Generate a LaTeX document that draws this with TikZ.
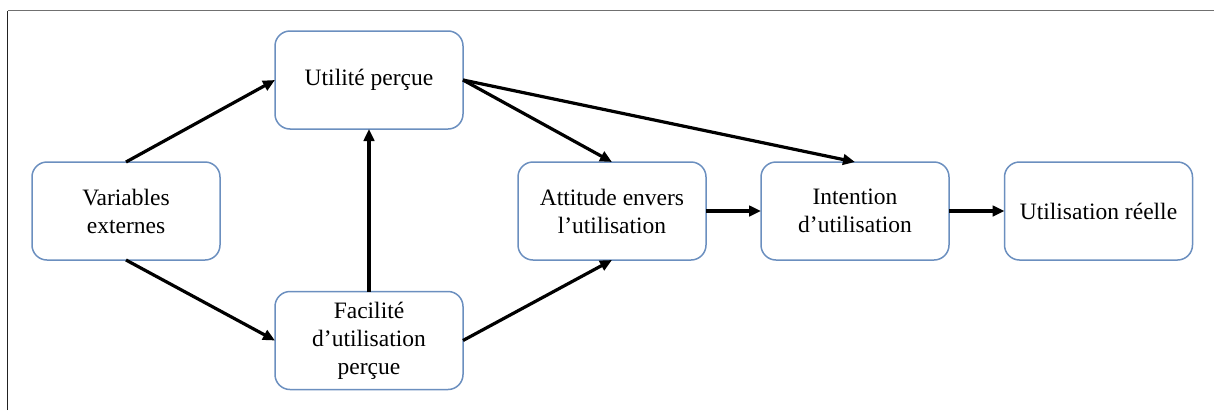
\documentclass[tikz,border=0pt]{standalone}
\usepackage{fontspec}
\setmainfont{Liberation Serif}
\usetikzlibrary{arrows.meta}
\definecolor{boxblue}{HTML}{6B8FBF}
\definecolor{framegray}{HTML}{707070}
\definecolor{framedark}{HTML}{222222}
\begin{document}
\begin{tikzpicture}[x=1pt,y=-1pt,
  box/.style={draw=boxblue, line width=1.5pt, rounded corners=15pt, fill=white,
    minimum width=188pt, minimum height=98pt, inner sep=2pt, outer sep=0pt,
    align=center, font=\fontsize{23.5}{28}\selectfont},
  link/.style={line width=3.2pt, -{Triangle[length=12pt,width=10.5pt]}}]
\useasboundingbox (0,0) rectangle (1214,410);
\draw[framegray, line width=1.5pt] (7.5,10.5) -- (1214,10.5);
\draw[framedark, line width=1.5pt] (7.5,410) -- (7.5,10.5);
\node[box] (ve) at (126,211) {Variables\\externes};
\node[box] (up) at (369,80) {Utilité perçue};
\node[box] (fa) at (369,340.5) {Facilité\\d’utilisation\\perçue};
\node[box] (at) at (612,211) {Attitude envers\\l’utilisation};
\node[box] (in) at (855,211) {Intention\\d’utilisation};
\node[box] (ur) at (1098.5,211) {Utilisation réelle};
\draw[link] (ve.north) -- (up.west);
\draw[link] (ve.south) -- (fa.west);
\draw[link] (fa.north) -- (up.south);
\draw[link] (up.east) -- (at.north);
\draw[link] (up.east) -- (in.north);
\draw[link] (fa.east) -- (at.south);
\draw[link] (at.east) -- (in.west);
\draw[link] (in.east) -- (ur.west);
\end{tikzpicture}
\end{document}
